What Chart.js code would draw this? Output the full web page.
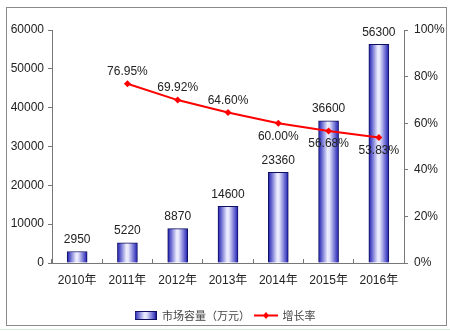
<!DOCTYPE html>
<html>
<head>
<meta charset="utf-8">
<script src="https://cdn.jsdelivr.net/npm/chart.js@4.4.1/dist/chart.umd.min.js"></script>
<style>
  html, body { margin: 0; padding: 0; background: #fff; }
  #wrap { position: relative; width: 450px; height: 331px; }
</style>
</head>
<body>
<div id="wrap"><canvas id="market-chart"></canvas></div>
<script>

//
// Market size chart - start
//

const years = ['2010年', '2011年', '2012年', '2013年', '2014年', '2015年', '2016年'];
const marketSize = [2950, 5220, 8870, 14600, 23360, 36600, 56300];
const growthRate = [null, 76.95, 69.92, 64.60, 60.00, 56.68, 53.83];
// which growth labels sit under their point
const growthBelow = [false, false, false, false, true, true, true];

const sizeLabel = '市场容量（万元）';
const growthLabel = '增长率';

const fontFamily = '"Liberation Sans", Arial, "Noto Sans CJK SC", sans-serif';
const cjkFamily = '"Noto Sans CJK SC", sans-serif';
const textColor = '#222';
const axisColor = '#777';

// blue bar with a light band in the middle
function barFill(ctx, x, w) {
  const g = ctx.createLinearGradient(x - w / 2, 0, x + w / 2, 0);
  g.addColorStop(0, '#1c1cb4');
  g.addColorStop(0.45, '#eeeeff');
  g.addColorStop(0.55, '#e4e4fc');
  g.addColorStop(1, '#1c1cb4');
  return g;
}

function legendBox() {
  const c = document.createElement('canvas');
  c.width = 22; c.height = 9;
  const g = c.getContext('2d');
  g.fillStyle = barFill(g, 11, 22);
  g.fillRect(0, 0, 22, 9);
  g.strokeStyle = '#101060';
  g.lineWidth = 1;
  g.strokeRect(0.5, 0.5, 21, 8);
  return c;
}

function legendLine() {
  const c = document.createElement('canvas');
  c.width = 24; c.height = 9;
  const g = c.getContext('2d');
  g.strokeStyle = '#ff0000';
  g.lineWidth = 2;
  g.beginPath(); g.moveTo(0, 4.5); g.lineTo(24, 4.5); g.stroke();
  g.fillStyle = '#ff0000';
  g.beginPath(); g.moveTo(12, 1); g.lineTo(15, 4.5); g.lineTo(12, 8); g.lineTo(9, 4.5); g.closePath(); g.fill();
  return c;
}

// outer frame and value labels
const chartExtras = {
  id: 'chartExtras',
  beforeDraw(chart) {
    const ctx = chart.ctx;
    ctx.save();
    ctx.strokeStyle = '#8a8a8a';
    ctx.lineWidth = 1;
    ctx.strokeRect(6.5, 7.5, 440, 318);
    ctx.strokeStyle = '#d6eedc';
    ctx.beginPath(); ctx.moveTo(0, 329.5); ctx.lineTo(450, 329.5); ctx.stroke();
    ctx.restore();
  },
  afterDatasetsDraw(chart) {
    const ctx = chart.ctx;
    ctx.save();
    ctx.font = '12px ' + fontFamily;
    ctx.fillStyle = textColor;
    ctx.textAlign = 'center';
    ctx.textBaseline = 'bottom';
    chart.getDatasetMeta(0).data.forEach((bar, i) => {
      ctx.fillText(String(marketSize[i]), bar.x, bar.y - 6);
    });
    chart.getDatasetMeta(1).data.forEach((pt, i) => {
      if (growthRate[i] === null) return;
      const txt = growthRate[i].toFixed(2) + '%';
      if (growthBelow[i]) {
        ctx.textBaseline = 'top';
        ctx.fillText(txt, pt.x, pt.y + 7);
      } else {
        ctx.textBaseline = 'bottom';
        ctx.fillText(txt, pt.x, pt.y - 6);
      }
    });
    ctx.restore();
  }
};

const data = {
  labels: years,
  datasets: [{
    type: 'bar',
    label: sizeLabel,
    data: marketSize,
    yAxisID: 'y',
    order: 2,
    barThickness: 20,
    borderColor: '#101060',
    borderWidth: 1,
    backgroundColor: (c) => {
      const x = c.chart.scales.x;
      if (!x) return '#3030c0';
      return barFill(c.chart.ctx, x.getPixelForValue(c.dataIndex), 20);
    }
  }, {
    type: 'line',
    label: growthLabel,
    data: growthRate,
    yAxisID: 'y1',
    order: 1,
    borderColor: '#ff0000',
    backgroundColor: '#ff0000',
    borderWidth: 2,
    pointStyle: 'rectRot',
    pointRadius: 3.5,
    pointBorderWidth: 0,
    tension: 0,
    spanGaps: false
  }]
};

const tickFont = { family: fontFamily, size: 12 };

const config = {
  data: data,
  plugins: [chartExtras],
  options: {
    responsive: true,
    maintainAspectRatio: false,
    animation: false,
    layout: { padding: { top: 30, bottom: 0 } },
    plugins: {
      tooltip: { enabled: false },
      legend: {
        position: 'bottom',
        labels: {
          usePointStyle: true,
          pointStyleWidth: 22,
          font: { family: cjkFamily, size: 11 },
          color: '#444',
          boxHeight: 9,
          padding: 5,
          generateLabels: () => [
            { text: sizeLabel, pointStyle: legendBox(), datasetIndex: 0, fontColor: '#444' },
            { text: growthLabel, pointStyle: legendLine(), datasetIndex: 1, fontColor: '#444' }
          ]
        }
      }
    },
    scales: {
      x: {
        grid: { drawOnChartArea: false, drawTicks: true, tickLength: -4, offset: true, color: axisColor },
        border: { display: true, color: axisColor },
        ticks: { font: tickFont, color: textColor, padding: 14 },
        afterFit: (s) => { s.height = 42; }
      },
      y: {
        position: 'left',
        min: 0, max: 60000,
        grid: { drawOnChartArea: false, tickLength: 4, color: axisColor },
        border: { display: true, color: axisColor },
        ticks: { stepSize: 10000, font: tickFont, color: textColor, padding: 4, callback: (v) => String(v) },
        afterFit: (s) => { s.width = 52; }
      },
      y1: {
        position: 'right',
        min: 0, max: 100,
        grid: { drawOnChartArea: false, tickLength: 4, color: axisColor },
        border: { display: true, color: axisColor },
        ticks: { stepSize: 20, font: tickFont, color: textColor, padding: 6, callback: (v) => v + '%' },
        afterFit: (s) => { s.width = 46; }
      }
    }
  }
};

// Render chart
const myChart = new Chart(document.getElementById('market-chart'), config);

//
// Market size chart - end
//
</script>
</body>
</html>
